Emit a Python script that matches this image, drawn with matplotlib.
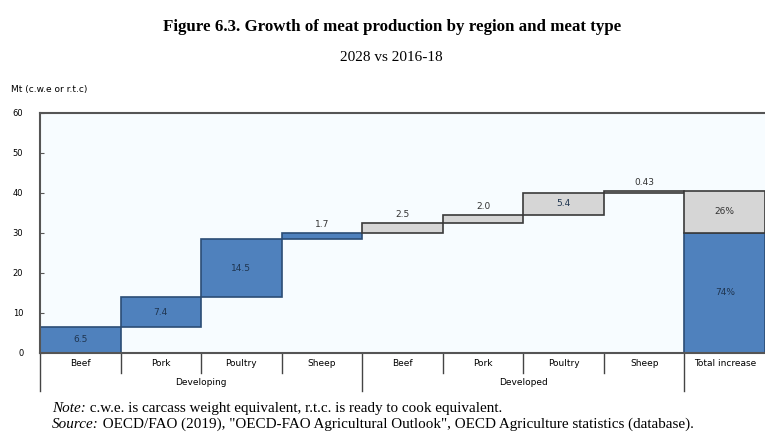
import numpy as np
import matplotlib.pyplot as plt
from matplotlib.lines import Line2D

# Data
categories = ["Beef", "Pork", "Poultry", "Sheep", "Beef", "Pork", "Poultry", "Sheep", "Total increase"]
groups = ["Developing", "Developed"]
developing = [6.5, 7.4, 14.5, 1.7]
developed = [2.5, 2.0, 5.4, 0.43]
dev_labels = ["6.5", "7.4", "14.5", "1.7"]
dvd_labels = ["2.5", "2.0", "5.4", "0.43"]
total_labels = ["74%", "26%"]

BLUE = "#4f81bd"
BLUE_EDGE = "#2c4d75"
GREY = "#d6d6d6"
GREY_EDGE = "#3a3a3a"
SERIF = "Liberation Serif"

fig = plt.figure(figsize=(7.65, 4.41), dpi=100)
ax = fig.add_axes([40 / 765, 1 - 353 / 441, 1 - 40 / 765, 240 / 441])
ax.set_facecolor("#f7fcff")

# Waterfall steps
values = developing + developed
bases = np.concatenate([[0], np.cumsum(values)[:-1]])
colors = [BLUE] * 4 + [GREY] * 4
edges = [BLUE_EDGE] * 4 + [GREY_EDGE] * 4
labels = dev_labels + dvd_labels
x = np.arange(8)
ax.bar(x, values, bottom=bases, width=1.0, color=colors, edgecolor=edges, linewidth=1.2)

for xi, v, b, lab in zip(x, values, bases, labels):
    if v > 4:
        ax.text(xi, b + v / 2, lab, ha="center", va="center", fontsize=6.5, color="#1f3550")
    else:
        ax.text(xi, b + v + 1.0, lab, ha="center", va="bottom", fontsize=6.5, color="#333333")

# Total increase column
dev_sum = sum(developing)
dvd_sum = sum(developed)
ax.bar(8, dev_sum, width=1.0, color=BLUE, edgecolor=BLUE_EDGE, linewidth=1.2)
ax.bar(8, dvd_sum, bottom=dev_sum, width=1.0, color=GREY, edgecolor=GREY_EDGE, linewidth=1.2)
ax.text(8, dev_sum / 2, total_labels[0], ha="center", va="center", fontsize=6.5, color="#1f3550")
ax.text(8, dev_sum + dvd_sum / 2, total_labels[1], ha="center", va="center", fontsize=6.5, color="#333333")

ax.set_xlim(-0.5, 8.5)
ax.set_ylim(0, 60)
ax.set_yticks(range(0, 61, 10))
ax.tick_params(axis="y", labelsize=6, length=3, direction="in", color="#555555", pad=12)
ax.set_xticks(x.tolist() + [8])
ax.set_xticklabels(categories, fontsize=6.5)
ax.tick_params(axis="x", length=0, pad=4)

for s in ["top", "left", "bottom"]:
    ax.spines[s].set_color("#555555")
    ax.spines[s].set_linewidth(1.5)
ax.spines["right"].set_visible(False)

# Separators under the axis
for b in range(1, 9):
    if b in (4, 8):
        continue
    ax.add_line(Line2D([b - 0.5, b - 0.5], [0, -5], color="#444444", lw=1, clip_on=False))
for b in [-0.5, 3.5, 7.5]:
    ax.add_line(Line2D([b, b], [0, -9.5], color="#444444", lw=1, clip_on=False))
ax.text(1.5, -7.3, groups[0], ha="center", va="center", fontsize=6.5)
ax.text(5.5, -7.3, groups[1], ha="center", va="center", fontsize=6.5)

# Titles
fig.text(0.512, 0.938, "Figure 6.3. Growth of meat production by region and meat type",
         ha="center", va="center", fontsize=12.2, fontweight="bold", family=SERIF)
fig.text(0.511, 0.87, "2028 vs 2016-18", ha="center", va="center", fontsize=11, family=SERIF)
fig.text(0.015, 0.798, "Mt (c.w.e or r.t.c)", ha="left", va="center", fontsize=6.5)

# Notes
note = fig.text(0.068, 1 - 412 / 441, "Note:", ha="left", va="baseline",
                fontsize=10.9, style="italic", family=SERIF)
ax.annotate(" c.w.e. is carcass weight equivalent, r.t.c. is ready to cook equivalent.",
            xy=(1, 0), xycoords=note, va="bottom", ha="left", fontsize=10.9, family=SERIF,
            annotation_clip=False)
source = fig.text(0.068, 1 - 428 / 441, "Source:", ha="left", va="baseline",
                  fontsize=10.9, style="italic", family=SERIF)
ax.annotate(" OECD/FAO (2019), \"OECD-FAO Agricultural Outlook\", OECD Agriculture statistics (database).",
            xy=(1, 0), xycoords=source, va="bottom", ha="left", fontsize=10.9, family=SERIF,
            annotation_clip=False)

fig.savefig("out.png", dpi=100)
